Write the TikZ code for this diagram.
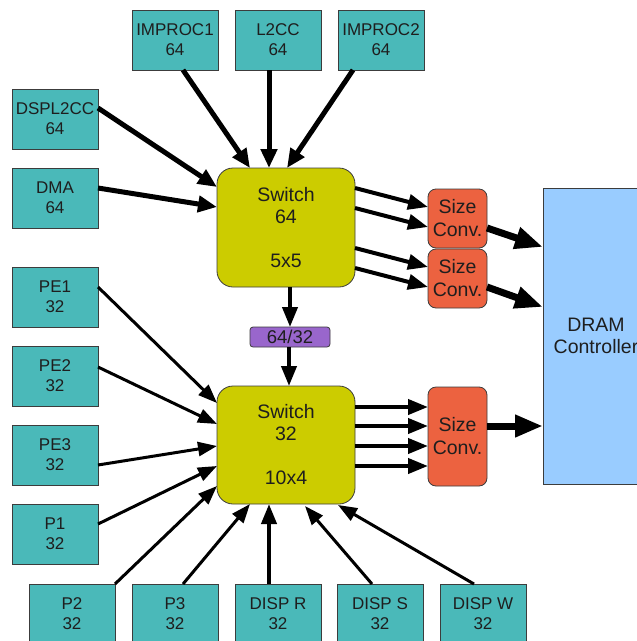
\documentclass[tikz,border=0pt]{standalone}
\usepackage{fontspec}
\setmainfont{Liberation Sans}
\usetikzlibrary{arrows.meta,calc}
\definecolor{tealc}{RGB}{74,185,185}
\definecolor{swc}{RGB}{204,204,0}
\definecolor{orc}{RGB}{236,98,64}
\definecolor{puc}{RGB}{153,102,204}
\definecolor{blc}{RGB}{153,204,255}
\definecolor{txt}{RGB}{30,30,30}
\definecolor{bord}{RGB}{60,60,60}
\begin{document}
\begin{tikzpicture}[x=1pt,y=-1pt,
  unit/.style={draw=bord,line width=0.8pt,fill=tealc,minimum width=86pt,minimum height=60pt,inner sep=0pt,outer sep=0pt,align=center,text=txt,font=\fontsize{17}{20}\selectfont},
  switchbox/.style={draw=bord,line width=0.8pt,fill=swc,rounded corners=16pt,minimum width=138pt,minimum height=118pt,inner sep=0pt,outer sep=0pt,align=center,text=txt,font=\fontsize{19.5}{22}\selectfont},
  convbox/.style={draw=bord,line width=0.8pt,fill=orc,rounded corners=8pt,minimum width=59pt,inner sep=0pt,outer sep=0pt,align=center,text=txt,font=\fontsize{19.5}{23}\selectfont},
  widthbox/.style={draw=bord,line width=0.8pt,fill=puc,rounded corners=3pt,minimum width=80pt,minimum height=20pt,inner sep=0pt,outer sep=0pt,text=txt,font=\fontsize{18.5}{20}\selectfont},
  dramboxstyle/.style={draw=bord,line width=0.8pt,fill=blc,minimum width=106pt,minimum height=296pt,inner sep=0pt,outer sep=0pt,align=center,text=txt,font=\fontsize{19.5}{22}\selectfont},
  athick/.style={line width=5pt,-{Triangle[length=19pt,width=16pt]}},
  amid/.style={line width=4pt,-{Triangle[length=20pt,width=15pt]}},
  athin/.style={line width=3pt,-{Triangle[length=19pt,width=14pt]}},
  abig/.style={line width=7pt,-{Triangle[length=28pt,width=21pt]}}
]
\useasboundingbox (0,0) rectangle (637,641);
% top row
\node[unit] (imp1) at (175,40) {IMPROC1\\64};
\node[unit] (l2cc) at (278,40) {L2CC\\64};
\node[unit] (imp2) at (381,40) {IMPROC2\\64};
% left column
\node[unit] (dspl) at (55,119) {DSPL2CC\\64};
\node[unit] (dma) at (55,198) {DMA\\64};
\node[unit] (pe1) at (55,297) {PE1\\32};
\node[unit] (pe2) at (55,376) {PE2\\32};
\node[unit] (pe3) at (55,455) {PE3\\32};
\node[unit] (p1) at (55,534) {P1\\32};
% bottom row
\node[unit] (p2) at (72,614) {P2\\32};
\node[unit] (p3) at (175,614) {P3\\32};
\node[unit] (dispr) at (278,614) {DISP R\\32};
\node[unit] (disps) at (380,614) {DISP S\\32};
\node[unit] (dispw) at (483,614) {DISP W\\32};
% switches
\node[switchbox,minimum height=119pt] (sw64) at (286,227.5) {Switch\\64\\[22pt]5x5};
\node[switchbox] (sw32) at (286,445) {Switch\\32\\[22pt]10x4};
\node[widthbox] (wc) at (290,337) {64/32};
% size converters
\node[convbox,minimum height=59pt] (sc1) at (457.5,218.5) {Size\\Conv.};
\node[convbox,minimum height=59pt] (sc2) at (457.5,278.5) {Size\\Conv.};
\node[convbox,minimum height=99pt] (sc3) at (457.5,436.5) {Size\\Conv.};
% DRAM
\node[dramboxstyle] (dram) at (596,336) {DRAM\\Controller};
% top inputs
\draw[athick] ($(imp1.south)+(8,0)$) -- ($(sw64.north west)+(33,0)$);
\draw[athick] ($(l2cc.south)+(-9,0)$) -- ($(sw64.north west)+(52,0)$);
\draw[athick] ($(imp2.south)+(-28,0)$) -- ($(sw64.north west)+(70,0)$);
\draw[athick] ($(dspl.north east)+(0,19)$) -- ($(sw64.north west)+(0,19)$);
\draw[athick] ($(dma.east)+(0,-10)$) -- ($(sw64.north west)+(0,39)$);
% switch 64 -> width conv -> switch 32
\draw[amid] ($(sw64.south west)+(73,0)$) -- ($(wc.north west)+(40,0)$);
\draw[amid] ($(wc.south west)+(39,0)$) -- ($(sw32.north west)+(72,0)$);
% left inputs of switch 32
\draw[athin] ($(pe1.north east)+(0,20)$) -- ($(sw32.north west)+(0,17)$);
\draw[athin] ($(pe2.north east)+(0,21)$) -- ($(sw32.north west)+(0,38)$);
\draw[athin] ($(pe3.north east)+(0,40)$) -- ($(sw32.north west)+(0,60)$);
\draw[athin] ($(p1.north east)+(0,20)$) -- ($(sw32.north west)+(0,80)$);
\draw[athin] (p2.north east) -- ($(sw32.north west)+(0,100)$);
% bottom inputs
\draw[athin] ($(p3.north)+(8,0)$) -- ($(sw32.south west)+(33,0)$);
\draw[amid] ($(dispr.north)+(-9,0)$) -- ($(sw32.south west)+(52,0)$);
\draw[athin] ($(disps.north)+(-8,0)$) -- ($(sw32.south west)+(88,2)$);
\draw[athin] ($(dispw.north)+(-9,0)$) -- ($(sw32.south west)+(121,1)$);
% switch 64 -> size converters
\draw[amid] ($(sw64.north east)+(0,20)$) -- ($(sc1.north west)+(0,18)$);
\draw[amid] ($(sw64.north east)+(0,40)$) -- ($(sc1.north west)+(0,38)$);
\draw[amid] ($(sw64.north east)+(0,80)$) -- ($(sc2.north west)+(0,18)$);
\draw[amid] ($(sw64.north east)+(0,100)$) -- ($(sc2.north west)+(0,38)$);
% switch 32 -> size converter
\draw[amid] ($(sw32.north east)+(0,21)$) -- ($(sc3.north west)+(0,20)$);
\draw[amid] ($(sw32.north east)+(0,40)$) -- ($(sc3.north west)+(0,39)$);
\draw[amid] ($(sw32.north east)+(0,60)$) -- ($(sc3.north west)+(0,59)$);
\draw[amid] ($(sw32.north east)+(0,80)$) -- ($(sc3.north west)+(0,79)$);
% size converters -> DRAM
\draw[abig] ($(sc1.north east)+(0,39)$) -- ($(dram.north west)+(0,59)$);
\draw[abig] ($(sc2.north east)+(0,38)$) -- ($(dram.north west)+(0,119)$);
\draw[abig] ($(sc3.north east)+(0,39)$) -- ($(dram.north west)+(0,238)$);
\end{tikzpicture}
\end{document}
